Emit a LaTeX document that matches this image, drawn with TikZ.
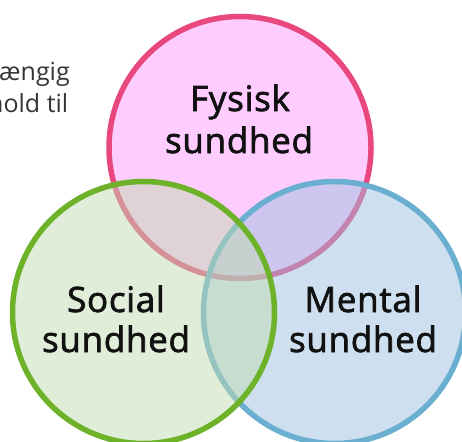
\documentclass[tikz,border=0pt]{standalone}
\usepackage{fontspec}
\setmainfont{Open Sans}
\newfontfamily\lblfont{Open Sans}[FakeBold=2, LetterSpace=2]
\definecolor{pinkfill}{RGB}{255,204,255}
\definecolor{pinkline}{RGB}{232,72,126}
\definecolor{bluefill}{RGB}{157,193,225}
\definecolor{blueline}{RGB}{106,174,208}
\definecolor{greenfill}{RGB}{193,219,177}
\definecolor{greenline}{RGB}{109,178,40}
\definecolor{txt}{RGB}{17,17,17}
\tikzset{
  ring/.style={line width=5.5pt},
  lbl/.style={anchor=base, inner sep=0pt, text=txt, font=\lblfont\fontsize{35}{42}\selectfont},
  side/.style={anchor=base west, inner sep=0pt, text=txt!85, font=\fontsize{25}{31}\selectfont}
}
\begin{document}
\begin{tikzpicture}[x=1pt,y=-1pt]
\useasboundingbox (0,0) rectangle (462,441);
\clip (0,0) rectangle (462,441);
\node[side] (s1) at (-1,81) {ængig};
\node[side] (s2) at (-12,112) {hold til};
\draw[ring, fill=pinkfill, draw=pinkline] (240,147.5) circle (131);
\draw[ring, fill=bluefill, fill opacity=0.5, draw=blueline] (334.5,312.5) circle (131);
\draw[ring, fill=greenfill, fill opacity=0.5, draw=greenline] (143.5,312.5) circle (131);
\node[lbl] (f1) at (240,111) {Fysisk};
\node[lbl] (f2) at (239,153) {sundhed};
\node[lbl] (g1) at (116,312) {Social};
\node[lbl] (g2) at (116,352) {sundhed};
\node[lbl] (b1) at (363,312) {Mental};
\node[lbl] (b2) at (363,352) {sundhed};
\end{tikzpicture}
\end{document}
